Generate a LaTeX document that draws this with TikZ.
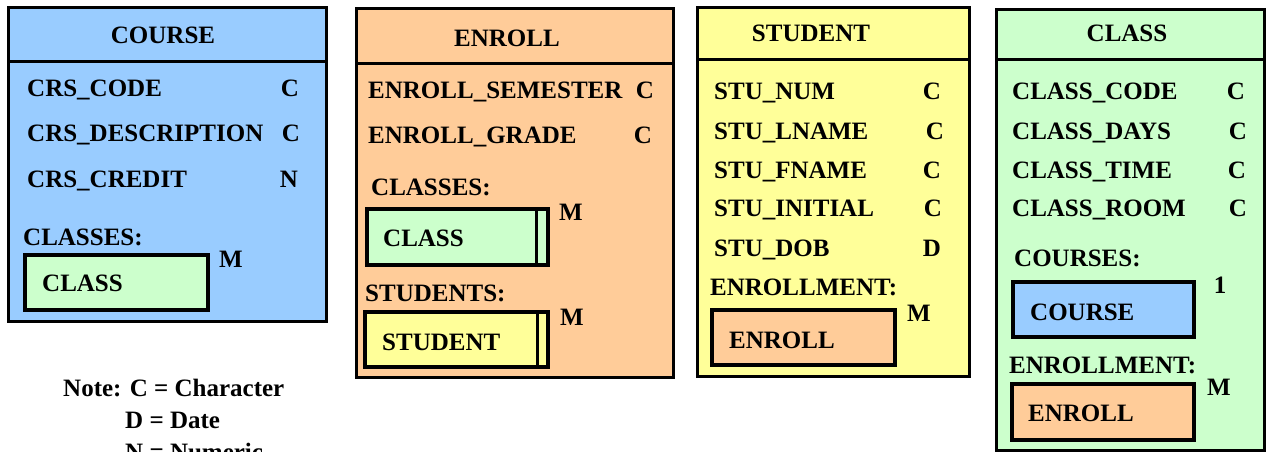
\documentclass[tikz,border=0pt]{standalone}
\usepackage{fontspec}
\setmainfont{Liberation Serif}
\usetikzlibrary{positioning}

\definecolor{coursecol}{HTML}{99CCFF}
\definecolor{enrollcol}{HTML}{FFCC99}
\definecolor{studentcol}{HTML}{FFFF99}
\definecolor{classcol}{HTML}{CCFFCC}

\tikzset{
  entity/.style={draw, line width=3pt, inner sep=0pt},
  member/.style={draw, line width=4pt, inner sep=0pt},
  txt/.style={anchor=west, inner sep=0pt, text height=17pt, text depth=0pt,
    font=\fontsize{25}{30}\selectfont\bfseries},
  ctxt/.style={txt, anchor=center},
}

\begin{document}
\begin{tikzpicture}[x=1pt, y=-1pt]
  \useasboundingbox (0,0) rectangle (1267,452);
  \clip (0,0) rectangle (1267,452);

  % COURSE
  \node[entity, fill=coursecol, minimum width=318pt, minimum height=313pt] (course) at (167,164.5) {};
  \draw[line width=3pt] (8,62) -- (326,62);
  \node[ctxt] (courseT) at (163,35) {COURSE};
  \node[txt] (crsCode) at (27,88) {CRS\_CODE};
  \node[txt] (crsDesc) at (27,133) {CRS\_DESCRIPTION};
  \node[txt] (crsCred) at (27,179) {CRS\_CREDIT};
  \node[ctxt] (crsCodeT) at (290,88) {C};
  \node[ctxt] (crsDescT) at (291,133) {C};
  \node[ctxt] (crsCredT) at (289,179) {N};
  \node[txt] (crsClasses) at (23,237) {CLASSES:};
  \node[member, fill=classcol, minimum width=183pt, minimum height=55pt] (crsClassBox) at (116.5,282.5) {};
  \node[txt] (crsClass) at (42,283) {CLASS};
  \node[ctxt] (crsClassM) at (231,259) {M};

  % ENROLL
  \node[entity, fill=enrollcol, minimum width=317pt, minimum height=368pt] (enroll) at (514.5,193) {};
  \draw[line width=3pt] (356,64) -- (673,64);
  \node[ctxt] (enrollT) at (507,38) {ENROLL};
  \node[txt] (enrSem) at (368,90) {ENROLL\_SEMESTER};
  \node[txt] (enrGrade) at (368,135) {ENROLL\_GRADE};
  \node[ctxt] (enrSemT) at (645,90) {C};
  \node[ctxt] (enrGradeT) at (643,135) {C};
  \node[txt] (enrClasses) at (371,187) {CLASSES:};
  \node[member, fill=classcol, minimum width=181pt, minimum height=56pt] (enrClassBox) at (457.5,237) {};
  \draw[line width=3pt] (536,209) -- (536,265);
  \node[txt] (enrClass) at (383,238) {CLASS};
  \node[ctxt] (enrClassM) at (571,212) {M};
  \node[txt] (enrStudents) at (365,293) {STUDENTS:};
  \node[member, fill=studentcol, minimum width=183pt, minimum height=55pt] (enrStuBox) at (456.5,339.5) {};
  \draw[line width=3pt] (537,312) -- (537,367);
  \node[txt] (enrStu) at (382,342) {STUDENT};
  \node[ctxt] (enrStuM) at (572,317) {M};

  % STUDENT
  \node[entity, fill=studentcol, minimum width=272pt, minimum height=368pt] (student) at (833,192) {};
  \draw[line width=3pt] (697,60) -- (969,60);
  \node[ctxt] (studentT) at (811,33) {STUDENT};
  \node[txt] (stuNum) at (714,91) {STU\_NUM};
  \node[txt] (stuLname) at (714,131) {STU\_LNAME};
  \node[txt] (stuFname) at (714,170) {STU\_FNAME};
  \node[txt] (stuInit) at (714,208) {STU\_INITIAL};
  \node[txt] (stuDob) at (714,248) {STU\_DOB};
  \node[ctxt] (stuNumT) at (932,91) {C};
  \node[ctxt] (stuLnameT) at (935,131) {C};
  \node[ctxt] (stuFnameT) at (932,170) {C};
  \node[ctxt] (stuInitT) at (933,208) {C};
  \node[ctxt] (stuDobT) at (932,248) {D};
  \node[txt] (stuEnrollment) at (710,287) {ENROLLMENT:};
  \node[member, fill=enrollcol, minimum width=183pt, minimum height=55pt] (stuEnrBox) at (803.5,337.5) {};
  \node[txt] (stuEnr) at (729,340) {ENROLL};
  \node[ctxt] (stuEnrM) at (919,313) {M};

  % CLASS
  \node[entity, fill=classcol, minimum width=268pt, minimum height=440pt] (class) at (1130,230) {};
  \draw[line width=3pt] (996,60) -- (1264,60);
  \node[ctxt] (classT) at (1127,33) {CLASS};
  \node[txt] (clsCode) at (1012,91) {CLASS\_CODE};
  \node[txt] (clsDays) at (1012,131) {CLASS\_DAYS};
  \node[txt] (clsTime) at (1012,170) {CLASS\_TIME};
  \node[txt] (clsRoom) at (1012,208) {CLASS\_ROOM};
  \node[ctxt] (clsCodeT) at (1236,91) {C};
  \node[ctxt] (clsDaysT) at (1238,131) {C};
  \node[ctxt] (clsTimeT) at (1237,170) {C};
  \node[ctxt] (clsRoomT) at (1238,208) {C};
  \node[txt] (clsCourses) at (1014,258) {COURSES:};
  \node[member, fill=coursecol, minimum width=181pt, minimum height=55pt] (clsCrsBox) at (1103.5,309.5) {};
  \node[txt] (clsCrs) at (1030,312) {COURSE};
  \node[ctxt] (clsCrsOne) at (1220,285) {1};
  \node[txt] (clsEnrollment) at (1009,365) {ENROLLMENT:};
  \node[member, fill=enrollcol, minimum width=182pt, minimum height=56pt] (clsEnrBox) at (1103,412) {};
  \node[txt] (clsEnr) at (1028,413) {ENROLL};
  \node[ctxt] (clsEnrM) at (1219,387) {M};

  % note
  \node[txt] (noteC) at (63,388) {Note: C = Character};
  \node[txt] (noteD) at (125,420) {D = Date};
  \node[txt] (noteN) at (125,452) {N = Numeric};
\end{tikzpicture}
\end{document}
